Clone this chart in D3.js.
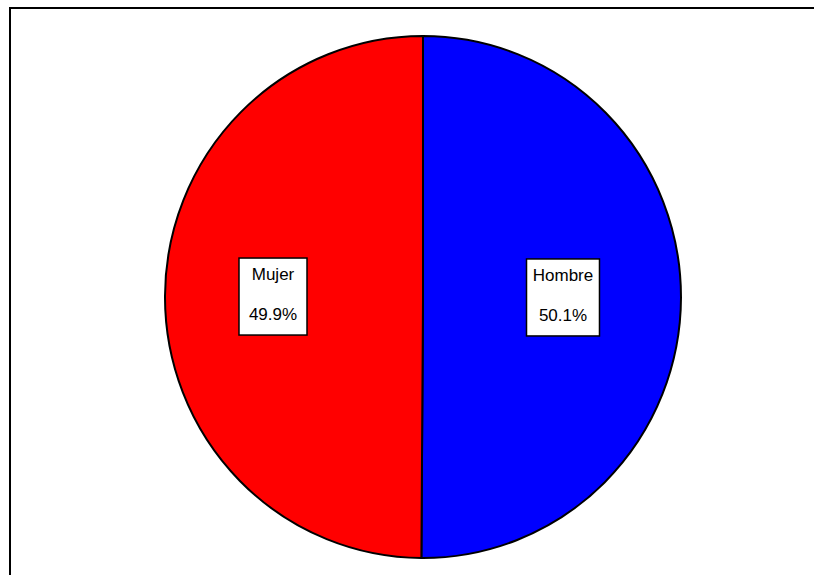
<!DOCTYPE html>
<html><head><meta charset="utf-8">
<script src="https://cdn.jsdelivr.net/npm/d3@7"></script>
<style>body{margin:0;background:#fff}svg{display:block}</style>
</head><body>
<script>
const categories = ["Hombre", "Mujer"];
const values = [50.1, 49.9];
const labels = ["50.1%", "49.9%"];
const colors = ["#0000ff", "#ff0000"];

const W = 814, H = 575;
const svg = d3.select("body").append("svg").attr("width", W).attr("height", H);

// outer frame (only top and left edges fall inside the picture)
svg.append("path").attr("d", "M10,575 V8 H814")
  .attr("fill", "none").attr("stroke", "#000").attr("stroke-width", 2);

const cx = 423, cy = 297, rx = 258, ry = 261;
const g = svg.append("g").attr("transform", `translate(${cx},${cy})`);
const pg = g.append("g").attr("transform", `scale(1,${ry/rx})`);

const pie = d3.pie().sort(null).value(d => d)(values);
const arc = d3.arc().innerRadius(0).outerRadius(rx);
pg.selectAll("path").data(pie).join("path")
  .attr("d", arc).attr("fill", (d, i) => colors[i])
  .attr("stroke", "#000").attr("stroke-width", 2).attr("stroke-linejoin", "round");

const labelArc = d3.arc().innerRadius(145).outerRadius(145);
pie.forEach((d, i) => {
  const [lx, ly] = labelArc.centroid(d);
  const lg = g.append("g").attr("transform", `translate(${lx - 5},${ly * ry / rx})`);
  const box = lg.append("rect");
  const t1 = lg.append("text").attr("text-anchor", "middle").attr("y", -22)
    .attr("dominant-baseline", "central")
    .style("font-family", "Liberation Sans, Arial, sans-serif").style("font-size", "17px")
    .text(categories[i]);
  const t2 = lg.append("text").attr("text-anchor", "middle").attr("y", 18)
    .attr("dominant-baseline", "central")
    .style("font-family", "Liberation Sans, Arial, sans-serif").style("font-size", "17px")
    .text(labels[i]);
  const w = Math.max(68, Math.max(t1.node().getComputedTextLength(), t2.node().getComputedTextLength()) + 12.5);
  box.attr("x", -w / 2).attr("y", -38.5).attr("width", w).attr("height", 77)
    .attr("fill", "#fff").attr("stroke", "#000").attr("stroke-width", 1.5);
});
</script>
</body></html>
